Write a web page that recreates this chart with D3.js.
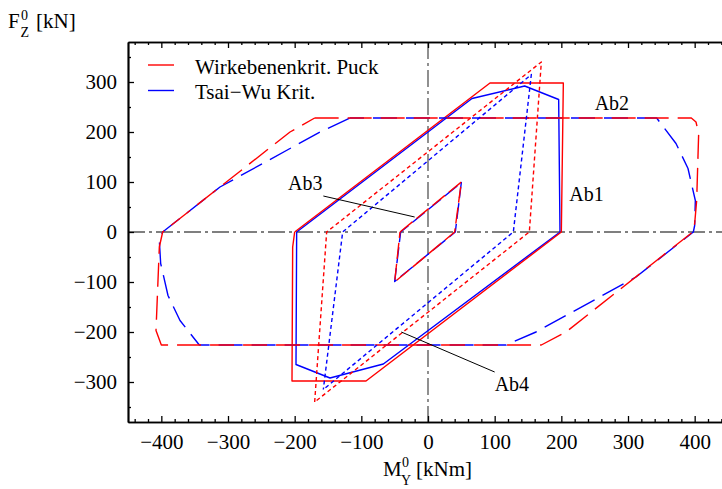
<!DOCTYPE html>
<html>
<head>
<meta charset="utf-8">
<script src="https://cdn.jsdelivr.net/npm/d3@7"></script>
<style>
  html, body { margin: 0; padding: 0; background: #fff; }
  svg { display: block; font-family: "Liberation Serif", "Times New Roman", serif; }
</style>
</head>
<body>
<svg id="chart" width="722" height="489"></svg>
<script>
// Failure envelopes in the M_Y / F_Z plane, points as [M (kNm), F (kN)]
const seriesNames  = ["Wirkebenenkrit. Puck", "Tsai\u2212Wu Krit."];
const seriesColors = ["#ff0000", "#0000ff"];

const xTicks = [-400, -300, -200, -100, 0, 100, 200, 300, 400];
const yTicks = [-300, -200, -100, 0, 100, 200, 300];

// Ab1 (solid)
const ab1Puck = [[-200, 0], [93, 298], [203, 298], [200, 0], [-93, -298], [-204, -298], [-203, -30], [-200, 0]];
const ab1Tsai = [[-197, 0], [66, 267], [145, 292], [196, 265], [198, 0], [-67, -264], [-147, -292], [-198, -265], [-197, 0]];

// Ab2 (long dash)
const ab2Puck = [[-170, 228], [395, 228], [402, 220], [406, 197], [403, 63], [400, 17], [397, 0],
                 [207, -200], [170, -226], [-400, -226], [-408, -197], [-403, -30], [-398, 0],
                 [-207, 200], [-170, 228]];
const ab2Tsai = [[-117, 228], [343, 228], [372, 177], [390, 127], [401, 63], [400, 13], [398, 0],
                 [312, -90], [162, -200], [117, -226], [-343, -226], [-372, -177], [-390, -127],
                 [-401, -63], [-403, -17], [-398, 0], [-312, 90], [-162, 200], [-117, 228]];

// Ab3 (dash)
const ab3Puck = [[-42, 0], [50, 100], [40, 0], [-50, -100], [-42, 0]];
const ab3Tsai = [[-41, 0], [50, 99], [41, 0], [-50, -99], [-41, 0]];

// Ab4 (short dash)
const ab4Puck = [[-170, -340], [-152, 0], [170, 340], [152, 0], [-170, -340]];
const ab4Tsai = [[-157, -315], [-128, 0], [155, 315], [128, 0], [-157, -315]];

// Curve labels with leader lines (data units)
const labels = [
  { text: "Ab1", at: [212, 63] },
  { text: "Ab2", at: [250, 245] },
  { text: "Ab3", at: [-210, 84], from: [-157, 72], to: [-20, 30] },
  { text: "Ab4", at: [100, -317], from: [100, -280], to: [-40, -200] }
];

const svg = d3.select("#chart");

const x = d3.scaleLinear().domain([-450, 450]).range([128, 728]);
const y = d3.scaleLinear().domain([-380, 380]).range([422, 42]);

const fmt = d3.format("d");

// zero reference lines (dash-dot)
const ref = svg.append("g")
  .attr("stroke", "#555").attr("stroke-width", 1.3)
  .attr("stroke-dasharray", "17,4,3,4").attr("fill", "none");
ref.append("line").attr("x1", x(-450)).attr("x2", x(450)).attr("y1", y(0)).attr("y2", y(0));
ref.append("line").attr("x1", x(0)).attr("x2", x(0)).attr("y1", y(380)).attr("y2", y(-380));

const line = d3.line().x(d => x(d[0])).y(d => y(d[1]));

const curves = [
  { data: ab1Tsai, s: 1, dash: null },
  { data: ab1Puck, s: 0, dash: null },
  { data: ab2Tsai, s: 1, dash: "24,9", off: 10 },
  { data: ab2Puck, s: 0, dash: "24,9", off: 0 },
  { data: ab3Tsai, s: 1, dash: "16,5", off: 6 },
  { data: ab3Puck, s: 0, dash: "16,5", off: 0 },
  { data: ab4Tsai, s: 1, dash: "4,3", off: 2 },
  { data: ab4Puck, s: 0, dash: "4,3", off: 0 }
];

svg.append("g").selectAll("path").data(curves).join("path")
  .attr("d", d => line(d.data))
  .attr("fill", "none")
  .attr("stroke", d => seriesColors[d.s])
  .attr("stroke-width", 1.4)
  .attr("stroke-linejoin", "round")
  .attr("stroke-dasharray", d => d.dash)
  .attr("stroke-dashoffset", d => d.off || 0);

// labels and leaders
const lab = svg.append("g");
labels.forEach(l => {
  if (l.from) {
    lab.append("line")
      .attr("x1", x(l.from[0])).attr("y1", y(l.from[1]))
      .attr("x2", x(l.to[0])).attr("y2", y(l.to[1]))
      .attr("stroke", "#000").attr("stroke-width", 1);
  }
  lab.append("text").attr("x", x(l.at[0])).attr("y", y(l.at[1]))
    .attr("font-size", 20).attr("fill", "#000").text(l.text);
});

// axes: major and minor ticks point inward
function styleAxis(g) {
  g.selectAll("path.domain").attr("stroke", "#000").attr("stroke-width", 1.7);
  g.selectAll(".tick line").attr("stroke", "#000").attr("stroke-width", 1.3);
  g.selectAll(".tick text").attr("font-size", 21).attr("fill", "#000")
    .attr("font-family", "\"Liberation Serif\", serif");
}
const xMinor = d3.range(-440, 441, 20).filter(v => v % 100 !== 0);
const yMinor = d3.range(-350, 351, 50).filter(v => v % 100 !== 0);

svg.append("g").attr("transform", `translate(0,${y(-380)})`)
  .call(d3.axisBottom(x).tickValues(xMinor).tickSize(-3).tickSizeOuter(0).tickFormat(""))
  .call(styleAxis);
svg.append("g").attr("transform", `translate(0,${y(-380)})`)
  .call(d3.axisBottom(x).tickValues(xTicks).tickSize(-6).tickSizeOuter(0).tickPadding(12).tickFormat(fmt))
  .call(styleAxis);

svg.append("g").attr("transform", `translate(0,${y(380)})`)
  .call(d3.axisTop(x).tickValues(xMinor).tickSize(-3).tickSizeOuter(0).tickFormat(""))
  .call(styleAxis);
svg.append("g").attr("transform", `translate(0,${y(380)})`)
  .call(d3.axisTop(x).tickValues(xTicks).tickSize(-6).tickSizeOuter(0).tickFormat(""))
  .call(styleAxis);

svg.append("g").attr("transform", `translate(${x(-450)},0)`)
  .call(d3.axisLeft(y).tickValues(yMinor).tickSize(-3).tickSizeOuter(0).tickFormat(""))
  .call(styleAxis);
svg.append("g").attr("transform", `translate(${x(-450)},0)`)
  .call(d3.axisLeft(y).tickValues(yTicks).tickSize(-6).tickSizeOuter(0).tickPadding(11).tickFormat(fmt))
  .call(styleAxis);

// legend
const leg = svg.append("g");
seriesNames.forEach((name, i) => {
  const yy = 65 + i * 25.5;
  leg.append("line").attr("x1", 148).attr("x2", 174).attr("y1", yy).attr("y2", yy)
    .attr("stroke", seriesColors[i]).attr("stroke-width", 1.4);
  leg.append("text").attr("x", 195).attr("y", yy + 8.5)
    .attr("font-size", 21).attr("fill", "#000").text(name);
});

// axis titles
const t = svg.append("g").attr("fill", "#000");
t.append("text").attr("x", 8).attr("y", 28).attr("font-size", 21).text("F");
t.append("text").attr("x", 21).attr("y", 20).attr("font-size", 14).text("0");
t.append("text").attr("x", 20.5).attr("y", 37).attr("font-size", 14).text("Z");
t.append("text").attr("x", 36).attr("y", 28).attr("font-size", 21).text("[kN]");

t.append("text").attr("x", 383).attr("y", 476).attr("font-size", 21).text("M");
t.append("text").attr("x", 402).attr("y", 467).attr("font-size", 14).text("0");
t.append("text").attr("x", 401).attr("y", 485).attr("font-size", 14).text("Y");
t.append("text").attr("x", 416).attr("y", 476).attr("font-size", 21).text("[kNm]");
</script>
</body>
</html>
